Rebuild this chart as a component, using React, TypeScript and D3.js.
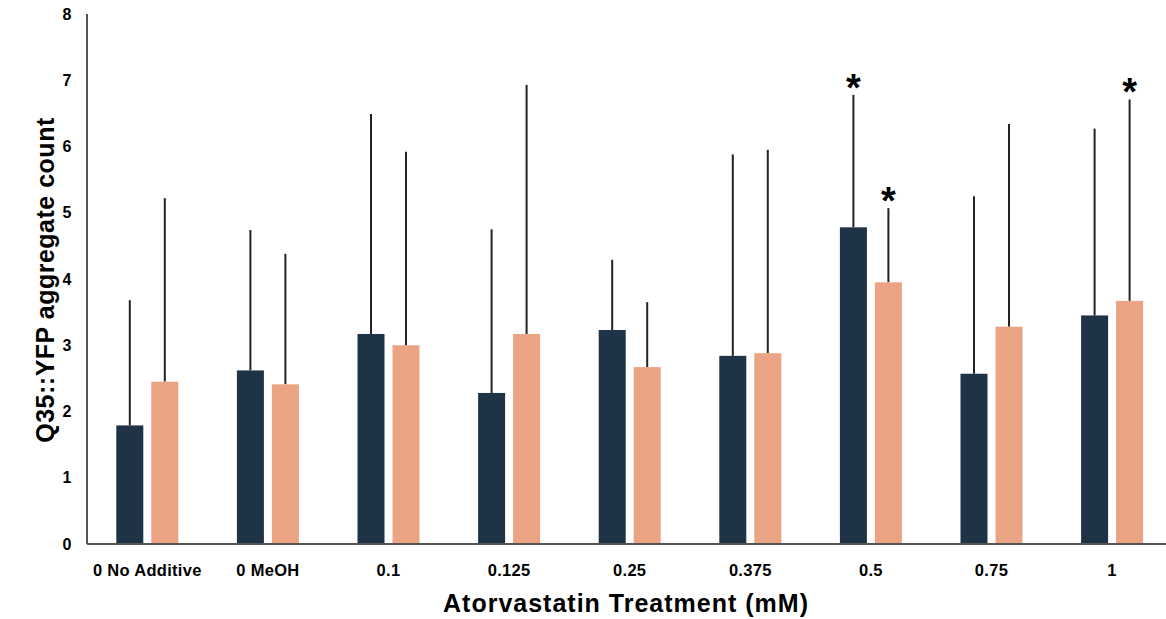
import React from 'react';
import * as d3 from 'd3';

const CATEGORIES = ['0 No Additive', '0 MeOH', '0.1', '0.125', '0.25', '0.375', '0.5', '0.75', '1'];
const DARK_MEAN = [1.79, 2.62, 3.17, 2.28, 3.23, 2.84, 4.78, 2.57, 3.45];
const DARK_ERR_TOP = [3.68, 4.74, 6.49, 4.75, 4.29, 5.88, 6.78, 5.25, 6.27];
const LIGHT_MEAN = [2.45, 2.41, 3.0, 3.17, 2.67, 2.88, 3.95, 3.28, 3.67];
const LIGHT_ERR_TOP = [5.22, 4.38, 5.92, 6.93, 3.65, 5.95, 5.07, 6.34, 6.71];
const DARK_SIG = [false, false, false, false, false, false, true, false, false];
const LIGHT_SIG = [false, false, false, false, false, false, true, false, true];
const Y_TICKS = [0, 1, 2, 3, 4, 5, 6, 7, 8];

const W = 1166, H = 619;
const m = { t: 14, l: 87, b: 75 };
const FONT = "'Liberation Sans', Arial, sans-serif";

export default function App() {
  const x = d3.scaleBand<string>().domain(CATEGORIES).range([m.l, m.l + 9 * 120.6]);
  const y = d3.scaleLinear().domain([0, 8]).range([H - m.b, m.t]);
  const barW = 27, gap = 8;

  const series = [
    { mean: DARK_MEAN, err: DARK_ERR_TOP, sig: DARK_SIG, color: '#1f3347', off: -(gap / 2 + barW) },
    { mean: LIGHT_MEAN, err: LIGHT_ERR_TOP, sig: LIGHT_SIG, color: '#eaa383', off: gap / 2 },
  ];

  return (
    <svg width={W} height={H} style={{ position: 'absolute', left: 0, top: 0, background: '#fff' }} fontFamily={FONT}>
      {series.map((s, si) => (
        <g key={si}>
          {CATEGORIES.map((c, i) => {
            const cx = (x(c) as number) + x.bandwidth() / 2 + s.off;
            const mid = cx + barW / 2;
            return (
              <g key={c}>
                <line x1={mid} x2={mid} y1={y(s.mean[i])} y2={y(s.err[i])} stroke="#222" strokeWidth={2} />
                <rect x={cx} y={y(s.mean[i])} width={barW} height={y(0) - y(s.mean[i])} fill={s.color} />
                {s.sig[i] && (
                  <text x={mid} y={y(s.err[i]) + 6} textAnchor="middle" fontSize={38} fontWeight="bold" fill="#000">*</text>
                )}
              </g>
            );
          })}
        </g>
      ))}
      <line x1={m.l} x2={m.l} y1={y(8)} y2={y(0)} stroke="#555" strokeWidth={2} />
      <line x1={m.l} x2={W} y1={y(0)} y2={y(0)} stroke="#555" strokeWidth={2} />
      {Y_TICKS.map(t => (
        <text key={t} x={67} y={y(t)} dy="0.35em" textAnchor="middle" fontSize={16} fontWeight="bold" fill="#000">{t}</text>
      ))}
      {CATEGORIES.map(c => (
        <text key={c} x={(x(c) as number) + x.bandwidth() / 2} y={576} textAnchor="middle" fontSize={16.5} fontWeight="bold" letterSpacing={0.3} fill="#000">{c}</text>
      ))}
      <text x={626} y={612} textAnchor="middle" fontSize={25} fontWeight="bold" letterSpacing={1} fill="#000">Atorvastatin Treatment (mM)</text>
      <text transform={`translate(54,${280}) rotate(-90)`} textAnchor="middle" fontSize={25} fontWeight="bold" letterSpacing={0.5} fill="#000">Q35::YFP aggregate count</text>
    </svg>
  );
}
